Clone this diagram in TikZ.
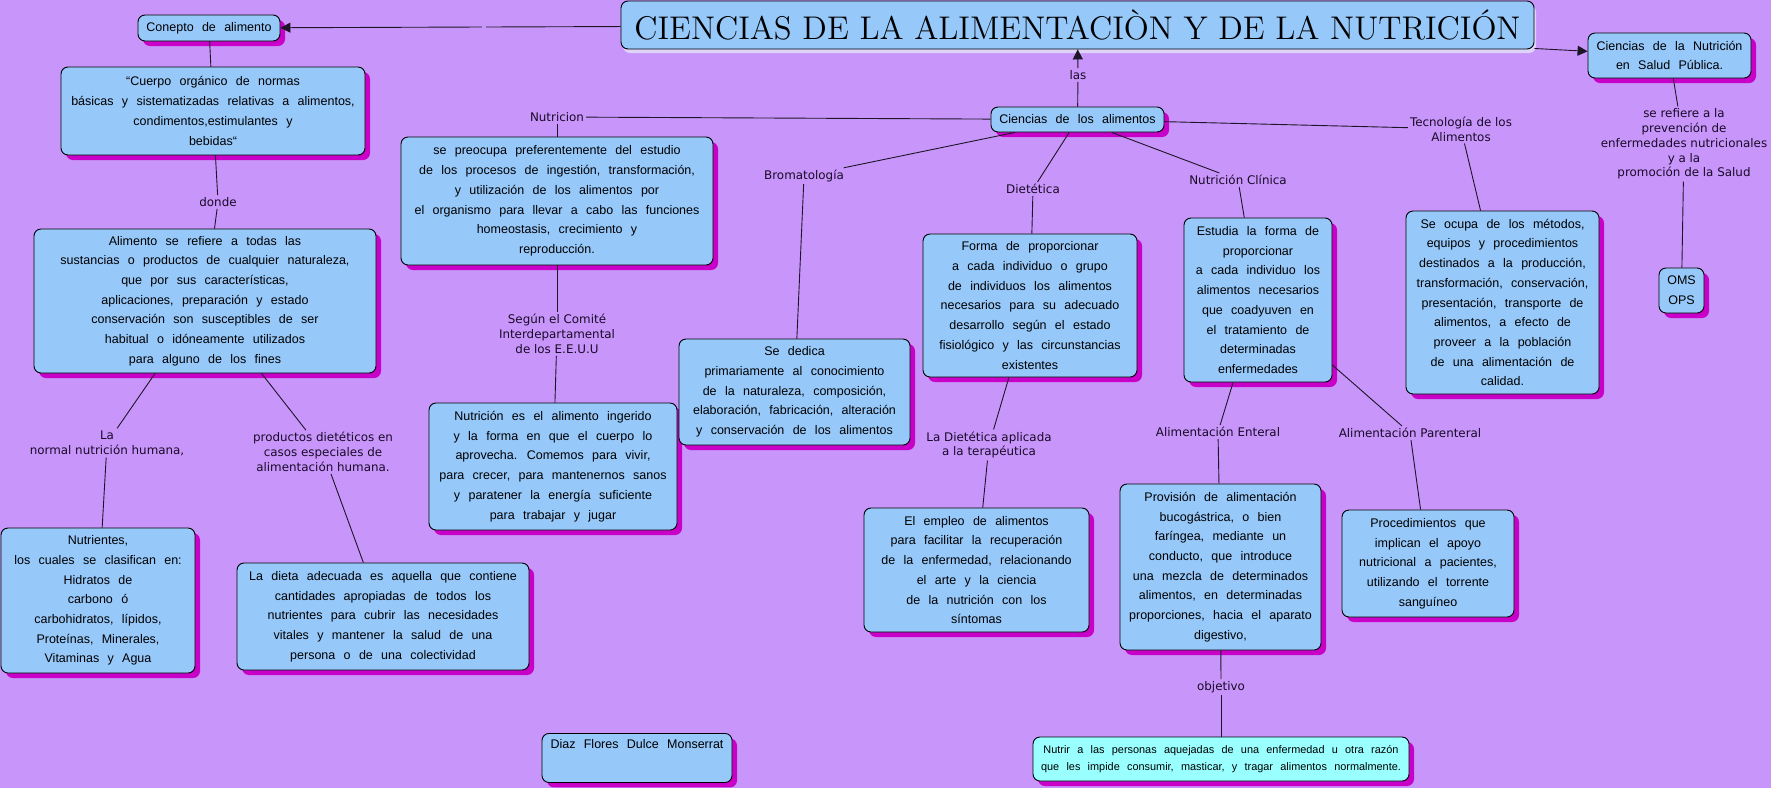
\documentclass[tikz,border=0pt]{standalone}
\usepackage{fontspec}
\usetikzlibrary{shadows,arrows.meta}
\newfontfamily\boxfont[WordSpace=2.4]{Liberation Sans}
\newfontfamily\lblfont{DejaVu Sans}
\definecolor{bgc}{RGB}{200,150,250}
\definecolor{boxc}{RGB}{150,200,250}
\definecolor{cyanc}{RGB}{153,255,255}
\definecolor{shc}{RGB}{200,0,200}
\definecolor{tshc}{RGB}{222,212,250}
\definecolor{lblc}{RGB}{25,10,40}
\definecolor{linkc}{RGB}{30,20,40}
\begin{document}
\begin{tikzpicture}[x=1pt,y=-1pt,
  boxbase/.style={draw=black, line width=0.9pt, rounded corners=7pt, fill=boxc,
    align=center, inner sep=3pt, text=black,
    font=\boxfont\fontsize{12.5}{19.7}\selectfont},
  box/.style={boxbase, drop shadow={shadow xshift=5pt, shadow yshift=-5pt, fill=shc, opacity=1}},
  tbox/.style={boxbase, drop shadow={shadow xshift=2pt, shadow yshift=-4pt, fill=tshc, opacity=1}},
  lbl/.style={align=center, inner sep=2pt, text=lblc,
    font=\lblfont\fontsize{11.9}{14.8}\selectfont},
  link/.style={draw=linkc, line width=0.9pt},
  arr/.style={link, -{Triangle[length=10pt,width=10pt]}}]
\fill[bgc] (0,0) rectangle (1771,788);
\useasboundingbox (0,0) rectangle (1771,788);

% title
\node[tbox, minimum width=913, minimum height=48] (title) at (1077.5,25)
  {\rmfamily\resizebox{886pt}{!}{CIENCIAS DE LA ALIMENTACIÒN Y DE LA NUTRICIÓN}};

% boxes
\node[box, minimum width=142, minimum height=26] (conepto) at (209,28) {Conepto de alimento};
\node[box, minimum width=304, minimum height=88] (cuerpo) at (213,111)
  {“Cuerpo orgánico de normas\\básicas y sistematizadas relativas a alimentos,\\condimentos,estimulantes y\\bebidas“};
\node[box, minimum width=342, minimum height=144] (alimento) at (205,301)
  {Alimento se refiere a todas las\\sustancias o productos de cualquier naturaleza,\\que por sus características,\\aplicaciones, preparación y estado\\conservación son susceptibles de ser\\habitual o idóneamente utilizados\\para alguno de los fines};
\node[box, minimum width=194, minimum height=145] (nutrientes) at (98,600.5)
  {Nutrientes,\\los cuales se clasifican en:\\Hidratos de\\carbono ó\\carbohidratos, lípidos,\\Proteínas, Minerales,\\Vitaminas y Agua};
\node[box, minimum width=292, minimum height=107] (dieta) at (383,616.5)
  {La dieta adecuada es aquella que contiene\\cantidades apropiadas de todos los\\nutrientes para cubrir las necesidades\\vitales y mantener la salud de una\\persona o de una colectividad};
\node[box, minimum width=312, minimum height=128] (preocupa) at (557,201)
  {se preocupa preferentemente del estudio\\de los procesos de ingestión, transformación,\\y utilización de los alimentos por\\el organismo para llevar a cabo las funciones\\homeostasis, crecimiento y\\reproducción.};
\node[box, minimum width=248, minimum height=127] (nutres) at (553,466.5)
  {Nutrición es el alimento ingerido\\y la forma en que el cuerpo lo\\aprovecha. Comemos para vivir,\\para crecer, para mantenernos sanos\\y paratener la energía suficiente\\para trabajar y jugar};
\node[box, minimum width=231, minimum height=106] (dedica) at (794.5,392)
  {Se dedica\\primariamente al conocimiento\\de la naturaleza, composición,\\elaboración, fabricación, alteración\\y conservación de los alimentos};
\node[box, minimum width=214, minimum height=143] (forma) at (1030,305.5)
  {Forma de proporcionar\\a cada individuo o grupo\\de individuos los alimentos\\necesarios para su adecuado\\desarrollo según el estado\\fisiológico y las circunstancias\\existentes};
\node[box, minimum width=225, minimum height=124] (empleo) at (976.5,570)
  {El empleo de alimentos\\para facilitar la recuperación\\de la enfermedad, relacionando\\el arte y la ciencia\\de la nutrición con los\\síntomas};
\node[box, minimum width=148, minimum height=164] (estudia) at (1258,300)
  {Estudia la forma de\\proporcionar\\a cada individuo los\\alimentos necesarios\\que coadyuven en\\el tratamiento de\\determinadas\\enfermedades};
\node[box, minimum width=201, minimum height=166] (provision) at (1220.5,567)
  {Provisión de alimentación\\bucogástrica, o bien\\faríngea, mediante un\\conducto, que introduce\\una mezcla de determinados\\alimentos, en determinadas\\proporciones, hacia el aparato\\digestivo,};
\node[box, fill=cyanc, minimum width=376, minimum height=44,
  font=\boxfont\fontsize{10.9}{16.7}\selectfont] (nutrir) at (1221,759)
  {Nutrir a las personas aquejadas de una enfermedad u otra razón\\que les impide consumir, masticar, y tragar alimentos normalmente.};
\node[box, minimum width=172, minimum height=107] (proc) at (1428,563.5)
  {Procedimientos que\\implican el apoyo\\nutricional a pacientes,\\utilizando el torrente\\sanguíneo};
\node[box, minimum width=193, minimum height=183] (seocupa) at (1502.5,302.5)
  {Se ocupa de los métodos,\\equipos y procedimientos\\destinados a la producción,\\transformación, conservación,\\presentación, transporte de\\alimentos, a efecto de\\proveer a la población\\de una alimentación de\\calidad.};
\node[box, minimum width=163, minimum height=45] (sp) at (1669.5,55.5)
  {Ciencias de la Nutrición\\en Salud Pública.};
\node[box, minimum width=45, minimum height=45] (oms) at (1681.5,290.5) {OMS\\OPS};
\node[box, minimum width=190, minimum height=49, anchor=north, text depth=28pt] (diaz) at (637,733)
  {Diaz Flores Dulce Monserrat};
\node[box, minimum width=173, minimum height=25] (ciencias) at (1077.5,119.5) {Ciencias de los alimentos};

% labels
\node[lbl] (las) at (1078,75) {las};
\node[lbl] (donde) at (218,202) {donde};
\node[lbl] (lanormal) at (107,443) {La\\normal nutrición humana,};
\node[lbl] (productos) at (323,452) {productos dietéticos en\\casos especiales de\\alimentación humana.};
\node[lbl] (nutricion) at (557,117) {Nutricion};
\node[lbl] (segun) at (557,334) {Según el Comité\\Interdepartamental\\de los E.E.U.U};
\node[lbl] (brom) at (804,176) {Bromatología};
\node[lbl] (dietetica) at (1033,189) {Dietética};
\node[lbl] (ladiet) at (989,445) {La Dietética aplicada\\a la terapéutica};
\node[lbl] (nclin) at (1238,180) {Nutrición Clínica};
\node[lbl] (enteral) at (1218,432) {Alimentación Enteral};
\node[lbl] (parenteral) at (1410,433) {Alimentación Parenteral};
\node[lbl] (objetivo) at (1221,687) {objetivo};
\node[lbl] (tec) at (1461,129) {Tecnología de los\\Alimentos};
\node[lbl] (serefiere) at (1684,144) {se refiere a la\\prevención de\\enfermedades nutricionales\\y a la\\promoción de la Salud};

\coordinate (g1) at (486,27);
\coordinate (g2) at (482,27);

% connectors
\draw[link] (title) -- (g1);
\draw[arr] (g2) -- (conepto);
\draw[link] (conepto) -- (cuerpo);
\draw[link] (cuerpo) -- (donde);
\draw[link] (donde) -- (alimento);
\draw[link] (alimento) -- (lanormal);
\draw[link] (lanormal) -- (nutrientes);
\draw[link] (alimento) -- (productos);
\draw[link] (productos) -- (dieta);
\draw[link] (ciencias) -- (nutricion);
\draw[link] (nutricion) -- (preocupa);
\draw[link] (preocupa) -- (segun);
\draw[link] (segun) -- (nutres);
\draw[link] (ciencias) -- (brom);
\draw[link] (brom) -- (dedica);
\draw[link] (ciencias) -- (dietetica);
\draw[link] (dietetica) -- (forma);
\draw[link] (forma) -- (ladiet);
\draw[link] (ladiet) -- (empleo);
\draw[link] (ciencias) -- (nclin);
\draw[link] (nclin) -- (estudia);
\draw[link] (estudia) -- (enteral);
\draw[link] (enteral) -- (provision);
\draw[link] (provision) -- (objetivo);
\draw[link] (objetivo) -- (nutrir);
\draw[link] (estudia) -- (parenteral);
\draw[link] (parenteral) -- (proc);
\draw[link] (ciencias) -- (tec);
\draw[link] (tec) -- (seocupa);
\draw[arr] (title) -- (sp);
\draw[link] (sp) -- (serefiere);
\draw[link] (serefiere) -- (oms);
\draw[link] (ciencias) -- (las);
\draw[arr] (las) -- (title);
\end{tikzpicture}
\end{document}
